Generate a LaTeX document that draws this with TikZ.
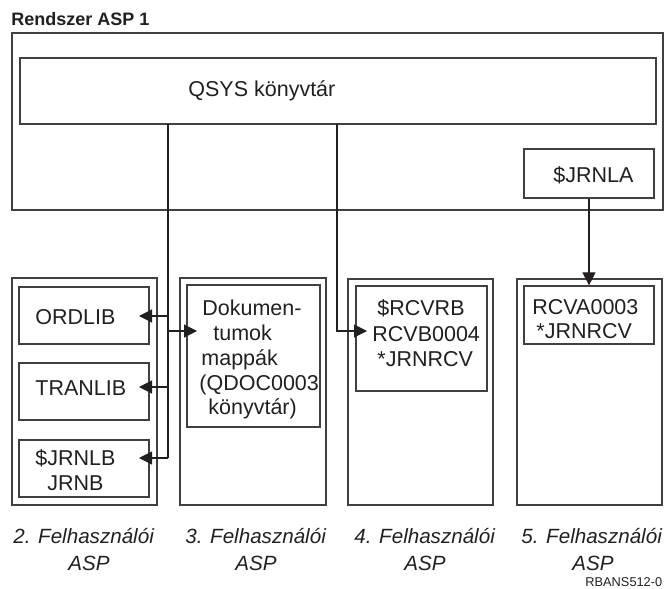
\documentclass[tikz,border=0pt]{standalone}
\usepackage{fontspec}
\setmainfont{Liberation Sans}
\usetikzlibrary{fit,arrows.meta}
\definecolor{ink}{HTML}{231F20}
\definecolor{edge}{HTML}{404040}
\tikzset{
  box/.style={draw=edge, line width=0.6pt, inner sep=0pt, fill=none},
  txt/.style={inner sep=0pt, anchor=base west, text=ink, font=\fontsize{10.75}{12}\selectfont},
  ttl/.style={inner sep=0pt, anchor=base west, text=ink, font=\fontsize{9}{11}\selectfont\bfseries},
  lbl/.style={inner sep=0pt, anchor=base west, text=ink, font=\fontsize{10.3}{12}\selectfont\itshape},
  code/.style={inner sep=0pt, anchor=base west, text=ink, font=\fontsize{6.4}{8}\selectfont},
  conn/.style={draw=ink, line width=0.55pt},
  arr/.style={conn, -{Triangle[length=6.5pt,width=6.5pt]}},
}
\begin{document}
\begin{tikzpicture}[x=0.5pt,y=-0.5pt]
\useasboundingbox (0,0) rectangle (667,588);
% system ASP
\node[ttl] (title) at (11,26) {Rendszer ASP 1};
\node[box, fit={(12,33)(663,210)}] (sys) {};
\node[box, fit={(20,58)(656,124)}] (qsys) {};
\node[txt] (qsyst) at (188,97) {QSYS könyvtár};
\node[box, fit={(524,149)(654,198)}] (jrnla) {};
\node[txt] (jrnlat) at (553,182) {\$JRNLA};
% ASP 2
\node[box, fit={(12,278)(157,505)}] (asp2) {};
\node[box, fit={(19,287)(149,344)}] (ordlib) {};
\node[txt] (ordlibt) at (35,324) {ORDLIB};
\node[box, fit={(19,363)(149,420)}] (tranlib) {};
\node[txt] (tranlibt) at (35,395.5) {TRANLIB};
\node[box, fit={(19,440)(149,497)}] (jrnlb) {};
\node[txt] (jrnlbt1) at (35,465) {\$JRNLB};
\node[txt] (jrnlbt2) at (47,490) {JRNB};
% ASP 3
\node[box, fit={(180,278)(326,505)}] (asp3) {};
\node[box, fit={(187,285)(320,427)}] (dok) {};
\node[txt] (d1) at (202,315) {Dokumen-};
\node[txt] (d2) at (213,340) {tumok};
\node[txt] (d3) at (201,365) {mappák};
\node[txt] (d4) at (199,390) {(QDOC0003};
\node[txt] (d5) at (208,414) {könyvtár)};
% ASP 4
\node[box, fit={(348,279)(493,505)}] (asp4) {};
\node[box, fit={(356,286)(487,391)}] (rcvb) {};
\node[txt] (r1) at (377,315) {\$RCVRB};
\node[txt] (r2) at (372,341) {RCVB0004};
\node[txt] (r3) at (377,366.5) {*JRNRCV};
% ASP 5
\node[box, fit={(517,279)(662,505)}] (asp5) {};
\node[box, fit={(524,286)(654,344)}] (rcva) {};
\node[txt] (a1t) at (532,314) {RCVA0003};
\node[txt] (a2t) at (536,338) {*JRNRCV};
% labels
\node[lbl] (l2a) at (13,543) {2. Felhasználói};
\node[lbl] (l2b) at (68,570) {ASP};
\node[lbl] (l3a) at (185,543) {3. Felhasználói};
\node[lbl] (l3b) at (235,570) {ASP};
\node[lbl] (l4a) at (354,543) {4. Felhasználói};
\node[lbl] (l4b) at (404,570) {ASP};
\node[lbl] (l5a) at (521,543) {5. Felhasználói};
\node[lbl] (l5b) at (572,570) {ASP};
\node[code] (fig) at (585,586.5) {RBANS512-0};
% connectors
\coordinate (bus) at (168,124);
\coordinate (bus2) at (337,124);
\coordinate (tOrd) at (139,316);
\coordinate (tTran) at (139,387);
\coordinate (tJrnb) at (139,458);
\coordinate (tDok) at (197,331);
\coordinate (tRcvb) at (367,331);
\draw[conn] (bus) -- (bus |- tJrnb);
\draw[arr] (bus |- tOrd) -- (tOrd);
\draw[arr] (bus |- tTran) -- (tTran);
\draw[arr] (bus |- tJrnb) -- (tJrnb);
\draw[arr] (bus |- tDok) -- (tDok);
\draw[arr] (bus2) |- (tRcvb);
\draw[arr] (jrnla.south) -- (jrnla.south |- rcva.north);
\end{tikzpicture}
\end{document}
